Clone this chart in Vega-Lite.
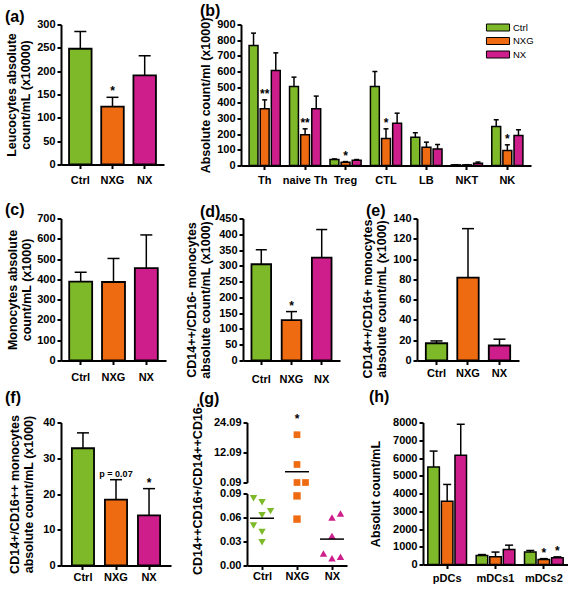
{
"$schema":"https://vega.github.io/schema/vega-lite/v6.json",
"padding":{"left":4,"top":2.5,"right":0,"bottom":0},
"background":"white",
"config":{
 "view":{"stroke":null},
 "font":"Liberation Sans",
 "axis":{"domainColor":"#000","domainWidth":2,"tickColor":"#000","tickWidth":2,"tickSize":4,"labelFont":"Liberation Sans","labelFontWeight":"bold","labelFontSize":11,"labelColor":"#000","titleFont":"Liberation Sans","titleFontWeight":"bold","titleFontSize":12.5,"titleColor":"#000","titleLineHeight":14.5,"grid":false,"labelPadding":2},
 "axisX":{"labelAngle":0},
 "axisY":{"titleBaseline":"top"},
 "title":{"font":"Liberation Sans","fontSize":16,"fontWeight":"bold","color":"#000","anchor":"start","frame":"group","baseline":"middle","align":"left"},
 "text":{"font":"Liberation Sans"}
},
"spacing":16,
"resolve":{"scale":{"color":"independent","shape":"independent"}},
"vconcat":[
 {"hconcat":[
  {"width":103,"height":140,
   "title":{"text":"(a)","dx":-56,"offset":-6.5},
   "data":{"values":[{"g":"Ctrl","v":248,"hi":285,"sig":""},{"g":"NXG","v":124,"hi":144,"sig":"*"},{"g":"NX","v":191,"hi":233,"sig":""}]},
   "encoding":{"x":{"field":"g","type":"nominal","sort":["Ctrl","NXG","NX"],"scale":{"paddingInner":0.3,"paddingOuter":0.25},"axis":{"title":null,"labelPadding":6}}},
   "layer":[
    {"mark":{"type":"bar","stroke":"#000","strokeWidth":1.8},"encoding":{"y":{"field":"v","type":"quantitative","stack":null,"scale":{"domain":[0,300],"nice":false},"axis":{"title":["Leucocytes absolute","count/mL (x10000)"],"values":[0,50,100,150,200,250,300],"titleX":-56}},"color":{"field":"g","type":"nominal","scale":{"domain":["Ctrl","NXG","NX"],"range":["#7DB928","#EF6B12","#CD1E8C"]},"legend":null}}},
    {"mark":{"type":"rule","color":"#000","strokeWidth":1.5},"encoding":{"y":{"field":"v","type":"quantitative","scale":{"domain":[0,300],"nice":false},"axis":{"title":["Leucocytes absolute","count/mL (x10000)"],"values":[0,50,100,150,200,250,300],"titleX":-56}},"y2":{"field":"hi"}}},
    {"mark":{"type":"tick","color":"#000","thickness":1.5,"size":12,"opacity":1},"encoding":{"y":{"field":"hi","type":"quantitative","scale":{"domain":[0,300],"nice":false},"axis":{"title":["Leucocytes absolute","count/mL (x10000)"],"values":[0,50,100,150,200,250,300],"titleX":-56}}}},
    {"mark":{"type":"text","fontSize":12,"fontWeight":"bold","baseline":"alphabetic","dy":-2},"encoding":{"y":{"field":"hi","type":"quantitative","scale":{"domain":[0,300],"nice":false},"axis":{"title":["Leucocytes absolute","count/mL (x10000)"],"values":[0,50,100,150,200,250,300],"titleX":-56}},"text":{"field":"sig"}}}
   ]},
  {"width":290,"height":141,
   "title":{"text":"(b)","dx":-41,"offset":-2},
   "data":{"values":[
    {"c":"Th","g":"Ctrl","v":766,"hi":845,"sig":""},{"c":"Th","g":"NXG","v":362,"hi":419,"sig":"**"},{"c":"Th","g":"NX","v":606,"hi":719,"sig":""},
    {"c":"naive Th","g":"Ctrl","v":504,"hi":564,"sig":""},{"c":"naive Th","g":"NXG","v":196,"hi":234,"sig":"**"},{"c":"naive Th","g":"NX","v":362,"hi":443,"sig":""},
    {"c":"Treg","g":"Ctrl","v":38,"hi":42,"sig":""},{"c":"Treg","g":"NXG","v":21,"hi":25,"sig":"*"},{"c":"Treg","g":"NX","v":34,"hi":38,"sig":""},
    {"c":"CTL","g":"Ctrl","v":504,"hi":600,"sig":""},{"c":"CTL","g":"NXG","v":172,"hi":234,"sig":"*"},{"c":"CTL","g":"NX","v":270,"hi":334,"sig":""},
    {"c":"LB","g":"Ctrl","v":181,"hi":209,"sig":""},{"c":"LB","g":"NXG","v":117,"hi":149,"sig":""},{"c":"LB","g":"NX","v":106,"hi":134,"sig":""},
    {"c":"NKT","g":"Ctrl","v":4,"hi":5,"sig":""},{"c":"NKT","g":"NXG","v":4,"hi":5,"sig":""},{"c":"NKT","g":"NX","v":15,"hi":22,"sig":""},
    {"c":"NK","g":"Ctrl","v":249,"hi":292,"sig":""},{"c":"NK","g":"NXG","v":96,"hi":132,"sig":"*"},{"c":"NK","g":"NX","v":191,"hi":228,"sig":""}]},
   "encoding":{"x":{"field":"c","type":"nominal","sort":["Th","naive Th","Treg","CTL","LB","NKT","NK"],"scale":{"paddingInner":0.23,"paddingOuter":0.2},"axis":{"title":null,"labelPadding":5}},
     "xOffset":{"field":"g","type":"nominal","scale":{"domain":["Ctrl","NXG","NX"],"paddingInner":0.2}}},
   "layer":[
    {"mark":{"type":"bar","stroke":"#000","strokeWidth":1.5},"encoding":{"y":{"field":"v","type":"quantitative","stack":null,"scale":{"domain":[0,900],"nice":false},"axis":{"title":"Absolute count/ml (x1000)","values":[0,100,200,300,400,500,600,700,800,900],"titleX":-42}},"color":{"field":"g","type":"nominal","scale":{"domain":["Ctrl","NXG","NX"],"range":["#7DB928","#EF6B12","#CD1E8C"]},"legend":{"orient":"none","legendX":249.5,"legendY":-4.5,"title":null,"symbolType":"M-1.65,-0.5H1.65V0.5H-1.65Z","symbolSize":196,"symbolStrokeColor":"#000","symbolStrokeWidth":1,"symbolOpacity":1,"labelFont":"Liberation Sans","labelFontSize":9.5,"labelFontWeight":"normal","labelColor":"#000","labelOffset":7.5,"rowPadding":0.5,"padding":0}}}},
    {"mark":{"type":"rule","color":"#000","strokeWidth":1.5},"encoding":{"y":{"field":"v","type":"quantitative","scale":{"domain":[0,900],"nice":false},"axis":{"title":"Absolute count/ml (x1000)","values":[0,100,200,300,400,500,600,700,800,900],"titleX":-42}},"y2":{"field":"hi"}}},
    {"mark":{"type":"tick","color":"#000","thickness":1.5,"size":5,"opacity":1},"encoding":{"y":{"field":"hi","type":"quantitative","scale":{"domain":[0,900],"nice":false},"axis":{"title":"Absolute count/ml (x1000)","values":[0,100,200,300,400,500,600,700,800,900],"titleX":-42}}}},
    {"mark":{"type":"text","fontSize":12,"fontWeight":"bold","baseline":"alphabetic","dy":-2},"encoding":{"y":{"field":"hi","type":"quantitative","scale":{"domain":[0,900],"nice":false},"axis":{"title":"Absolute count/ml (x1000)","values":[0,100,200,300,400,500,600,700,800,900],"titleX":-42}},"text":{"field":"sig"}}}
   ]}
 ],"spacing":77,"bounds":"flush","resolve":{"scale":{"color":"independent"}}},
 {"vconcat":[
  {"hconcat":[
   {"width":105,"height":142,
    "title":{"text":"(c)","dx":-56,"offset":-5},
    "data":{"values":[{"g":"Ctrl","v":389,"hi":435},{"g":"NXG","v":387,"hi":503},{"g":"NX","v":455,"hi":619}]},
    "encoding":{"x":{"field":"g","type":"nominal","sort":["Ctrl","NXG","NX"],"scale":{"paddingInner":0.3,"paddingOuter":0.25},"axis":{"title":null,"labelPadding":7}}},
    "layer":[
     {"mark":{"type":"bar","stroke":"#000","strokeWidth":1.8},"encoding":{"y":{"field":"v","type":"quantitative","stack":null,"scale":{"domain":[0,700],"nice":false},"axis":{"title":["Monocytes absolute","count/mL (x1000)"],"values":[0,100,200,300,400,500,600,700],"titleX":-55}},"color":{"field":"g","type":"nominal","scale":{"domain":["Ctrl","NXG","NX"],"range":["#7DB928","#EF6B12","#CD1E8C"]},"legend":null}}},
     {"mark":{"type":"rule","color":"#000","strokeWidth":1.5},"encoding":{"y":{"field":"v","type":"quantitative","scale":{"domain":[0,700],"nice":false},"axis":{"title":["Monocytes absolute","count/mL (x1000)"],"values":[0,100,200,300,400,500,600,700],"titleX":-55}},"y2":{"field":"hi"}}},
     {"mark":{"type":"tick","color":"#000","thickness":1.5,"size":12,"opacity":1},"encoding":{"y":{"field":"hi","type":"quantitative","scale":{"domain":[0,700],"nice":false},"axis":{"title":["Monocytes absolute","count/mL (x1000)"],"values":[0,100,200,300,400,500,600,700],"titleX":-55}}}}
    ]},
   {"width":97,"height":142,
    "title":{"text":"(d)","dx":-43,"offset":-7},
    "data":{"values":[{"g":"Ctrl","v":305,"hi":351,"sig":""},{"g":"NXG","v":128,"hi":155,"sig":"*"},{"g":"NX","v":326,"hi":415,"sig":""}]},
    "encoding":{"x":{"field":"g","type":"nominal","sort":["Ctrl","NXG","NX"],"scale":{"paddingInner":0.35,"paddingOuter":0.28},"axis":{"title":null,"labelPadding":9}}},
    "layer":[
     {"mark":{"type":"bar","stroke":"#000","strokeWidth":1.8},"encoding":{"y":{"field":"v","type":"quantitative","stack":null,"scale":{"domain":[0,450],"nice":false},"axis":{"title":["CD14++/CD16- monocytes","absolute count/mL (x1000)"],"values":[0,50,100,150,200,250,300,350,400,450],"titleX":-58,"titleY":81}},"color":{"field":"g","type":"nominal","scale":{"domain":["Ctrl","NXG","NX"],"range":["#7DB928","#EF6B12","#CD1E8C"]},"legend":null}}},
     {"mark":{"type":"rule","color":"#000","strokeWidth":1.5},"encoding":{"y":{"field":"v","type":"quantitative","scale":{"domain":[0,450],"nice":false},"axis":{"title":["CD14++/CD16- monocytes","absolute count/mL (x1000)"],"values":[0,50,100,150,200,250,300,350,400,450],"titleX":-58,"titleY":81}},"y2":{"field":"hi"}}},
     {"mark":{"type":"tick","color":"#000","thickness":1.5,"size":11,"opacity":1},"encoding":{"y":{"field":"hi","type":"quantitative","scale":{"domain":[0,450],"nice":false},"axis":{"title":["CD14++/CD16- monocytes","absolute count/mL (x1000)"],"values":[0,50,100,150,200,250,300,350,400,450],"titleX":-58,"titleY":81}}}},
     {"mark":{"type":"text","fontSize":12,"fontWeight":"bold","baseline":"alphabetic","dy":-2},"encoding":{"y":{"field":"hi","type":"quantitative","scale":{"domain":[0,450],"nice":false},"axis":{"title":["CD14++/CD16- monocytes","absolute count/mL (x1000)"],"values":[0,50,100,150,200,250,300,350,400,450],"titleX":-58,"titleY":81}},"text":{"field":"sig"}}}
    ]},
   {"width":102,"height":142,
    "title":{"text":"(e)","dx":-51,"offset":-6},
    "data":{"values":[{"g":"Ctrl","v":17,"hi":19.3},{"g":"NXG","v":81.8,"hi":130},{"g":"NX","v":14.8,"hi":21}]},
    "encoding":{"x":{"field":"g","type":"nominal","sort":["Ctrl","NXG","NX"],"scale":{"paddingInner":0.32,"paddingOuter":0.28},"axis":{"title":null,"labelPadding":3}}},
    "layer":[
     {"mark":{"type":"bar","stroke":"#000","strokeWidth":1.8},"encoding":{"y":{"field":"v","type":"quantitative","stack":null,"scale":{"domain":[0,140],"nice":false},"axis":{"title":["CD14++/CD16+ monocytes","absolute count/mL (x1000)"],"values":[0,20,40,60,80,100,120,140],"titleX":-56,"titleY":80}},"color":{"field":"g","type":"nominal","scale":{"domain":["Ctrl","NXG","NX"],"range":["#7DB928","#EF6B12","#CD1E8C"]},"legend":null}}},
     {"mark":{"type":"rule","color":"#000","strokeWidth":1.5},"encoding":{"y":{"field":"v","type":"quantitative","scale":{"domain":[0,140],"nice":false},"axis":{"title":["CD14++/CD16+ monocytes","absolute count/mL (x1000)"],"values":[0,20,40,60,80,100,120,140],"titleX":-56,"titleY":80}},"y2":{"field":"hi"}}},
     {"mark":{"type":"tick","color":"#000","thickness":1.5,"size":12,"opacity":1},"encoding":{"y":{"field":"hi","type":"quantitative","scale":{"domain":[0,140],"nice":false},"axis":{"title":["CD14++/CD16+ monocytes","absolute count/mL (x1000)"],"values":[0,20,40,60,80,100,120,140],"titleX":-56,"titleY":80}}}}
    ]}
  ],"spacing":77,"bounds":"flush","resolve":{"scale":{"color":"independent"}}},
  {"hconcat":[
   {"width":110,"height":143,
    "title":{"text":"(f)","dx":-56,"offset":9},
    "data":{"values":[{"g":"Ctrl","v":32.8,"hi":37.1,"sig":"","note":""},{"g":"NXG","v":18.4,"hi":24,"sig":"","note":"p = 0.07"},{"g":"NX","v":14,"hi":21.5,"sig":"*","note":""}]},
    "encoding":{"x":{"field":"g","type":"nominal","sort":["Ctrl","NXG","NX"],"scale":{"paddingInner":0.33,"paddingOuter":0.33},"axis":{"title":null,"labelPadding":1.5}}},
    "layer":[
     {"mark":{"type":"bar","stroke":"#000","strokeWidth":1.8},"encoding":{"y":{"field":"v","type":"quantitative","stack":null,"scale":{"domain":[0,40],"nice":false},"axis":{"title":["CD14+/CD16++ monocytes","absolute count/mL (x1000)"],"values":[0,10,20,30,40],"titleX":-53}},"color":{"field":"g","type":"nominal","scale":{"domain":["Ctrl","NXG","NX"],"range":["#7DB928","#EF6B12","#CD1E8C"]},"legend":null}}},
     {"mark":{"type":"rule","color":"#000","strokeWidth":1.5},"encoding":{"y":{"field":"v","type":"quantitative","scale":{"domain":[0,40],"nice":false},"axis":{"title":["CD14+/CD16++ monocytes","absolute count/mL (x1000)"],"values":[0,10,20,30,40],"titleX":-53}},"y2":{"field":"hi"}}},
     {"mark":{"type":"tick","color":"#000","thickness":1.5,"size":12,"opacity":1},"encoding":{"y":{"field":"hi","type":"quantitative","scale":{"domain":[0,40],"nice":false},"axis":{"title":["CD14+/CD16++ monocytes","absolute count/mL (x1000)"],"values":[0,10,20,30,40],"titleX":-53}}}},
     {"mark":{"type":"text","fontSize":12,"fontWeight":"bold","baseline":"alphabetic","dy":-2},"encoding":{"y":{"field":"hi","type":"quantitative","scale":{"domain":[0,40],"nice":false},"axis":{"title":["CD14+/CD16++ monocytes","absolute count/mL (x1000)"],"values":[0,10,20,30,40],"titleX":-53}},"text":{"field":"sig"}}},
     {"mark":{"type":"text","fontSize":9,"fontWeight":"bold","baseline":"alphabetic","dy":-3},"encoding":{"y":{"field":"hi","type":"quantitative","scale":{"domain":[0,40],"nice":false},"axis":{"title":["CD14+/CD16++ monocytes","absolute count/mL (x1000)"],"values":[0,10,20,30,40],"titleX":-53}},"text":{"field":"note"}}}
    ]},
   {"width":100,"height":143,
    "title":{"text":"(g)","dx":-48,"offset":-4},
    "encoding":{"x":{"field":"g","type":"nominal","scale":{"type":"point","padding":0.43,"domain":["Ctrl","NXG","NX"]},"axis":{"title":null,"labelPadding":1}}},
    "resolve":{"scale":{"y":"independent"},"axis":{"y":"independent"}},
    "layer":[
     {"layer":[
       {"data":{"values":[{"g":"NXG","v":19.2,"j":0},{"g":"NXG","v":7.3,"j":0},{"g":"NXG","v":0.09,"j":0},{"g":"NXG","v":0.09,"j":1}]},
        "mark":{"type":"point","filled":true,"size":45,"opacity":1},
        "encoding":{"y":{"field":"v","type":"quantitative","scale":{"domain":[0.09,24.09],"range":[60,0],"nice":false,"zero":false},"axis":{"title":null,"orient":"left","values":[0.09,12.09,24.09],"format":".2f"}},
         "xOffset":{"field":"j","type":"quantitative","scale":{"domain":[-1,1],"range":[-8.5,8.5]}},
         "color":{"field":"g","type":"nominal","scale":{"domain":["Ctrl","NXG","NX"],"range":["#7DB928","#EF6B12","#CD1E8C"]},"legend":null},
         "shape":{"field":"g","type":"nominal","scale":{"domain":["Ctrl","NXG","NX"],"range":["triangle-down","square","triangle-up"]},"legend":null}}},
       {"data":{"values":[{"g":"NXG","m":4.4}]},
        "mark":{"type":"tick","color":"#000","thickness":1.5,"size":24,"opacity":1},
        "encoding":{"y":{"field":"m","type":"quantitative"}}},
       {"data":{"values":[{"g":"NXG","sig":"*"}]},
        "mark":{"type":"text","fontSize":12,"fontWeight":"bold","baseline":"alphabetic"},
        "encoding":{"y":{"datum":24.09,"type":"quantitative"},"text":{"field":"sig"}}}
     ]},
     {"layer":[
       {"data":{"values":[
         {"g":"Ctrl","v":0.084,"j":-1},{"g":"Ctrl","v":0.079,"j":0},{"g":"Ctrl","v":0.068,"j":1},{"g":"Ctrl","v":0.063,"j":0},{"g":"Ctrl","v":0.050,"j":-1},{"g":"Ctrl","v":0.042,"j":0},{"g":"Ctrl","v":0.029,"j":0},
         {"g":"NXG","v":0.087,"j":0},{"g":"NXG","v":0.058,"j":0},
         {"g":"NX","v":0.060,"j":0},{"g":"NX","v":0.065,"j":1},{"g":"NX","v":0.037,"j":0},{"g":"NX","v":0.015,"j":-1},{"g":"NX","v":0.009,"j":0},{"g":"NX","v":0.011,"j":1}]},
        "mark":{"type":"point","filled":true,"size":55,"opacity":1},
        "encoding":{"y":{"field":"v","type":"quantitative","scale":{"domain":[0,0.09],"range":[143,71],"nice":false},"axis":{"title":"CD14++CD16+/CD14++CD16-","orient":"left","values":[0,0.03,0.06,0.09],"format":".2f","titleX":-56,"titleY":66}},
         "xOffset":{"field":"j","type":"quantitative","scale":{"domain":[-1,1],"range":[-8.5,8.5]}},
         "color":{"field":"g","type":"nominal","scale":{"domain":["Ctrl","NXG","NX"],"range":["#7DB928","#EF6B12","#CD1E8C"]},"legend":null},
         "shape":{"field":"g","type":"nominal","scale":{"domain":["Ctrl","NXG","NX"],"range":["triangle-down","square","triangle-up"]},"legend":null}}},
       {"data":{"values":[{"g":"Ctrl","m":0.059},{"g":"NX","m":0.033}]},
        "mark":{"type":"tick","color":"#000","thickness":1.5,"size":24,"opacity":1},
        "encoding":{"y":{"field":"m","type":"quantitative"}}}
     ]}
    ]},
   {"width":145,"height":142,
    "title":{"text":"(h)","dx":-54,"offset":7},
    "data":{"values":[
     {"c":"pDCs","g":"Ctrl","v":5490,"hi":6390,"sig":""},{"c":"pDCs","g":"NXG","v":3570,"hi":4510,"sig":""},{"c":"pDCs","g":"NX","v":6160,"hi":7900,"sig":""},
     {"c":"mDCs1","g":"Ctrl","v":510,"hi":560,"sig":""},{"c":"mDCs1","g":"NXG","v":435,"hi":700,"sig":""},{"c":"mDCs1","g":"NX","v":845,"hi":1090,"sig":""},
     {"c":"mDCs2","g":"Ctrl","v":700,"hi":790,"sig":""},{"c":"mDCs2","g":"NXG","v":280,"hi":330,"sig":"*"},{"c":"mDCs2","g":"NX","v":375,"hi":430,"sig":"*"}]},
    "encoding":{"x":{"field":"c","type":"nominal","sort":["pDCs","mDCs1","mDCs2"],"scale":{"paddingInner":0.2,"paddingOuter":0.1},"axis":{"title":null,"labelPadding":4}},
      "xOffset":{"field":"g","type":"nominal","scale":{"domain":["Ctrl","NXG","NX"],"paddingInner":0.15}}},
    "layer":[
     {"mark":{"type":"bar","stroke":"#000","strokeWidth":1.5},"encoding":{"y":{"field":"v","type":"quantitative","stack":null,"scale":{"domain":[0,8000],"nice":false},"axis":{"title":"Absolut count/mL","values":[0,1000,2000,3000,4000,5000,6000,7000,8000],"format":"d","titleX":-54}},"color":{"field":"g","type":"nominal","scale":{"domain":["Ctrl","NXG","NX"],"range":["#7DB928","#EF6B12","#CD1E8C"]},"legend":null}}},
     {"mark":{"type":"rule","color":"#000","strokeWidth":1.5},"encoding":{"y":{"field":"v","type":"quantitative","scale":{"domain":[0,8000],"nice":false},"axis":{"title":"Absolut count/mL","values":[0,1000,2000,3000,4000,5000,6000,7000,8000],"format":"d","titleX":-54}},"y2":{"field":"hi"}}},
     {"mark":{"type":"tick","color":"#000","thickness":1.5,"size":8,"opacity":1},"encoding":{"y":{"field":"hi","type":"quantitative","scale":{"domain":[0,8000],"nice":false},"axis":{"title":"Absolut count/mL","values":[0,1000,2000,3000,4000,5000,6000,7000,8000],"format":"d","titleX":-54}}}},
     {"mark":{"type":"text","fontSize":12,"fontWeight":"bold","baseline":"alphabetic","dy":-2},"encoding":{"y":{"field":"hi","type":"quantitative","scale":{"domain":[0,8000],"nice":false},"axis":{"title":"Absolut count/mL","values":[0,1000,2000,3000,4000,5000,6000,7000,8000],"format":"d","titleX":-54}},"text":{"field":"sig"}}}
    ]}
  ],"spacing":76,"bounds":"flush","resolve":{"scale":{"color":"independent","shape":"independent"}}}
 ],"spacing":4,"resolve":{"scale":{"color":"independent","shape":"independent"}}}
]
}
